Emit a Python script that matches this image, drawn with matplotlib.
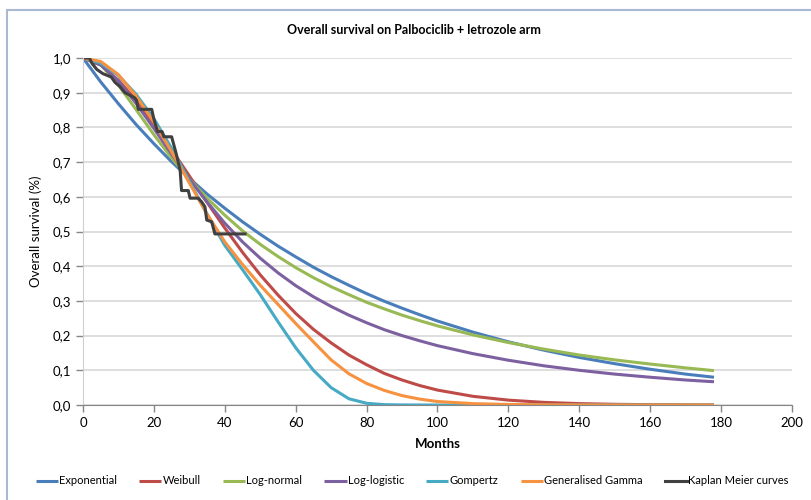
import matplotlib
matplotlib.use("Agg")
import matplotlib.pyplot as plt
from matplotlib.patches import Rectangle

# fitted curves (months / survival)
months = [0, 5, 10, 15, 20, 25, 30, 35, 40, 45, 50, 55, 60, 65, 70, 75, 80, 85, 90, 95, 100,
          110, 120, 130, 140, 150, 160, 170, 178]
exponential = [1.0, 0.931, 0.868, 0.808, 0.753, 0.701, 0.653, 0.608, 0.567, 0.528, 0.492, 0.458,
               0.427, 0.397, 0.370, 0.345, 0.321, 0.299, 0.279, 0.260, 0.242,
               0.210, 0.182, 0.158, 0.137, 0.119, 0.103, 0.089, 0.080]
weibull = [1.0, 0.980, 0.936, 0.878, 0.810, 0.736, 0.660, 0.584, 0.510, 0.440, 0.375, 0.317,
           0.264, 0.218, 0.179, 0.144, 0.116, 0.091, 0.072, 0.056, 0.043,
           0.025, 0.014, 0.0076, 0.004, 0.002, 0.001, 0.0005, 0.0003]
lognormal = [1.0, 0.981, 0.922, 0.851, 0.779, 0.712, 0.651, 0.596, 0.547, 0.502, 0.463, 0.428,
             0.396, 0.367, 0.341, 0.318, 0.296, 0.277, 0.259, 0.243, 0.228,
             0.202, 0.180, 0.161, 0.144, 0.130, 0.118, 0.107, 0.099]
loglogistic = [1.0, 0.980, 0.933, 0.869, 0.797, 0.723, 0.651, 0.585, 0.524, 0.470, 0.423, 0.381,
               0.344, 0.312, 0.284, 0.259, 0.237, 0.217, 0.200, 0.185, 0.171,
               0.148, 0.129, 0.113, 0.100, 0.089, 0.080, 0.072, 0.067]
gompertz = [1.0, 0.985, 0.95, 0.895, 0.825, 0.74, 0.645, 0.55, 0.46, 0.39, 0.318, 0.24,
            0.165, 0.10, 0.05, 0.018, 0.005, 0.001, 0.0002, 0, 0,
            0, 0, 0, 0, 0, 0, 0, 0]
gen_gamma = [1.0, 0.99, 0.952, 0.89, 0.815, 0.73, 0.64, 0.55, 0.47, 0.405, 0.345, 0.29,
             0.235, 0.182, 0.13, 0.09, 0.062, 0.042, 0.027, 0.017, 0.010,
             0.004, 0.0015, 0.0005, 0.0002, 0, 0, 0, 0]

# Kaplan Meier polyline
km_t = [0, 1.8, 2.5, 3.9, 5.6, 8.0, 9.0, 10.4, 11.8, 13.2, 14.6, 15.1, 15.6, 19.4, 19.9, 21.0,
        22.3, 22.8, 25.0, 26.3, 27.4, 27.8, 29.7, 30.2, 32.5, 33.5, 34.4, 34.9, 36.3, 37.2, 45.7]
km_s = [1.0, 1.0, 0.985, 0.967, 0.955, 0.945, 0.93, 0.918, 0.90, 0.893, 0.885, 0.878, 0.852,
        0.852, 0.828, 0.788, 0.788, 0.773, 0.773, 0.724, 0.676, 0.618, 0.618, 0.596, 0.596,
        0.585, 0.571, 0.533, 0.528, 0.493, 0.493]

series = [("Exponential", exponential, "#4a7ebb"),
          ("Weibull", weibull, "#be4b48"),
          ("Log-normal", lognormal, "#98b954"),
          ("Log-logistic", loglogistic, "#7d60a0"),
          ("Gompertz", gompertz, "#46aac5"),
          ("Generalised Gamma", gen_gamma, "#f69240")]

xticks = [0, 20, 40, 60, 80, 100, 120, 140, 160, 180, 200]
yticks = [0.0, 0.1, 0.2, 0.3, 0.4, 0.5, 0.6, 0.7, 0.8, 0.9, 1.0]
ytick_labels = ["0,0", "0,1", "0,2", "0,3", "0,4", "0,5", "0,6", "0,7", "0,8", "0,9", "1,0"]

plt.rcParams['font.family'] = ['Lato', 'DejaVu Sans']

fig = plt.figure(figsize=(8.12, 5), dpi=100)
ax = fig.add_axes([83/812, 1 - 405/500, 709/812, 347/500])

for name, vals, col in series:
    ax.plot(months, vals, color=col, lw=2.2, label=name, solid_capstyle='butt')
ax.plot(km_t, km_s, color="#404040", lw=2.2, label="Kaplan Meier curves")

ax.set_xlim(0, 200)
ax.set_ylim(0, 1)
ax.set_xticks(xticks)
ax.set_yticks(yticks)
ax.set_yticklabels(ytick_labels)
ax.tick_params(labelsize=9.5, colors="#868686", labelcolor="black", length=5, width=1)
ax.grid(axis='y', color="#d4d4d4", lw=1.1)
ax.set_axisbelow(True)
for s in ["top", "right"]:
    ax.spines[s].set_visible(False)
ax.spines["left"].set_color("#d0d0d0")
ax.spines["bottom"].set_color("#868686")

ax.set_xlabel("Months", fontsize=9.5, fontweight='bold')
ax.xaxis.set_label_coords(0.5, -0.095)
ax.set_ylabel("Overall survival (%)", fontsize=9.5)
ax.yaxis.set_label_coords(-0.058, 0.5)

fig.text(414/812, 1 - 30/500, "Overall survival on Palbociclib + letrozole arm",
         ha='center', va='center', fontsize=9, fontweight='bold')

fig.legend(loc='center', bbox_to_anchor=(412/812, 1 - 481/500), ncol=7, frameon=False,
           fontsize=8, handlelength=2.0, handletextpad=0.1, columnspacing=2.0)

# outer chart frame
fig.add_artist(Rectangle((7/812, -0.05), 1.2, 1 - 10/500 + 0.05, transform=fig.transFigure,
                         fill=False, edgecolor="#a7b9d3", lw=1.5, clip_on=False))

fig.savefig("out.png", dpi=100)
